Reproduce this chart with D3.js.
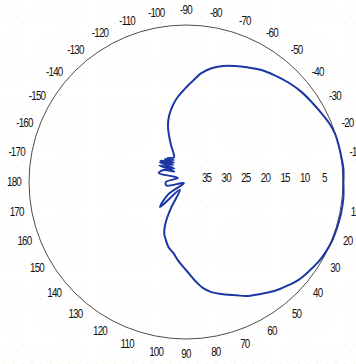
<!DOCTYPE html>
<html>
<head>
<meta charset="utf-8">
<script src="https://cdn.jsdelivr.net/npm/d3@7"></script>
<style>
  html, body { margin: 0; padding: 0; background: #fff; overflow: hidden; }
  text { font-family: "Liberation Sans", Arial, sans-serif; font-size: 12px; fill: #111; letter-spacing: -1px; }
</style>
</head>
<body>
<svg id="chart" width="356" height="364"></svg>
<script>
// Measured radiation pattern: azimuth (deg) and level below peak (dB), in trace order
const patternAngles = [
  0, 6, 12, 17, 22, 27, 31, 36, 41, 45, 49, 53, 57, 62, 66, 71, 77, 81, 84, 88,
  92, 96, 100, 105, 109, 113, 117, 120, 128, 136, 145, 153, 170, 180, -153, -162,
  -152, -138, -148, -131, -143, -127, -140, -122, -133, -119, -128, -116, -114,
  -112, -110, -107.5, -104, -99, -95,
  -91, -88, -85, -82, -77, -72, -67, -62, -56, -50, -44, -38, -32, -27, -22, -18,
  -14, -9, -5, 0
];
const patternLevels = [
  -0.1, -0.3, -0.3, -0.2, -0.1, 0.2, 0.6, 1.3, 2.0, 2.9, 3.8, 4.8, 5.9, 7.1, 8.4, 9.7, 11.2, 12.7, 14.3, 16.6,
  18.4, 20.0, 21.6, 22.8, 24.3, 25.8, 28.8, 32.4, 37.5, 30.8, 34.4, 39.4, 34.9, 34.9, 37.7, 32.7,
  33.5, 36.0, 32.0, 35.5, 31.6, 34.6, 31.5, 34.2, 32.0, 33.6, 32.3, 33.0, 32.5,
  29.8, 27.3, 24.7, 22.4, 19.8, 18.0,
  16.4, 15.0, 13.6, 12.0, 10.2, 8.9, 7.9, 6.9, 5.6, 4.6, 3.6, 2.7, 2.0, 1.3, 0.5, 0.1,
  0.0, -0.1, -0.25, -0.1
];

// Azimuth labels around the rim and level labels along the 0° radius
const angleTickLabels = [
  -170, -160, -150, -140, -130, -120, -110, -100, -90, -80, -70, -60, -50, -40, -30, -20, -10,
  10, 20, 30, 40, 50, 60, 70, 80, 90, 100, 110, 120, 130, 140, 150, 160, 170, 180
];
const radialTickLabels = [35, 30, 25, 20, 15, 10, 5];

const width = 356, height = 364;
const cx = 186, cy = 182, R = 157, labelGap = 15;

const svg = d3.select("#chart");

// faint dotted paper texture
const defs = svg.append("defs");
const pat = defs.append("pattern")
  .attr("id", "dots").attr("patternUnits", "userSpaceOnUse")
  .attr("width", 9.2).attr("height", 9.2);
pat.append("circle").attr("cx", 4.6).attr("cy", 4.6).attr("r", 0.7)
  .attr("fill", "#efe8c6");
svg.append("rect").attr("width", width).attr("height", height).attr("fill", "#fff");
svg.append("rect").attr("width", width).attr("height", height).attr("fill", "url(#dots)");

// level 40 dB sits at the centre, 0 dB on the outer ring
const r = d3.scaleLinear().domain([40, 0]).range([0, R]);
// azimuth 0° points right, positive angles turn clockwise
const theta = d3.scaleLinear().domain([0, 360]).range([Math.PI / 2, Math.PI / 2 + 2 * Math.PI]);

const g = svg.append("g").attr("transform", `translate(${cx},${cy})`);

g.append("circle")
  .attr("r", r(0))
  .attr("fill", "none")
  .attr("stroke", "#3a3a3a")
  .attr("stroke-width", 0.9);

// azimuth labels
g.selectAll("text.ang")
  .data(angleTickLabels)
  .join("text")
  .attr("class", "ang")
  .attr("text-anchor", "middle")
  .attr("dy", "0.35em")
  .attr("transform", d => {
    const [x, y] = d3.pointRadial(theta(d), r(0) + labelGap);
    return `translate(${x},${y}) scale(0.82,1)`;
  })
  .text(d => d);

// level labels
g.selectAll("text.lev")
  .data(radialTickLabels)
  .join("text")
  .attr("class", "lev")
  .attr("text-anchor", "middle")
  .attr("dy", "0.35em")
  .attr("transform", d => `translate(${r(d) + 1},-4) scale(0.82,1)`)
  .text(d => d);

// pattern trace
const trace = patternAngles.map((a, i) => ({ a, v: patternLevels[i] }));
const line = d3.lineRadial()
  .angle(d => theta(d.a))
  .radius(d => r(d.v))
  .curve(d3.curveCatmullRom.alpha(0.5));

g.append("path")
  .datum(trace)
  .attr("d", line)
  .attr("fill", "none")
  .attr("stroke", "#1c37a4")
  .attr("stroke-width", 2)
  .attr("stroke-linejoin", "round");
</script>
</body>
</html>
